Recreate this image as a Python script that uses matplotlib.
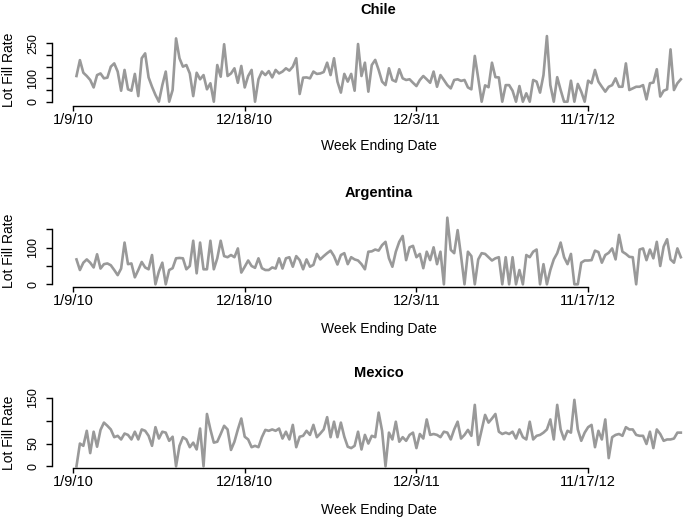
import matplotlib
matplotlib.use("Agg")
import matplotlib.pyplot as plt
import numpy as np

plt.rcParams['font.family'] = ['Liberation Sans', 'DejaVu Sans']

# ---------------- data ----------------
tick_labels = ["1/9/10", "12/18/10", "12/3/11", "11/17/12"]
tick_weeks = [0, 50, 100, 150]

chile = [110,178,124,110,93,61,114,121,100,103,
         150,164,129,47,136,53,47,119,24,186,
         207,104,64,29,0,71,129,0,50,271,
         186,150,157,121,24,124,96,114,53,79,
         0,157,107,246,110,121,143,81,153,61,
         110,136,0,96,129,114,131,104,136,121,
         129,143,133,150,186,33,103,104,100,129,
         119,121,127,167,114,186,86,39,119,86,
         119,47,247,110,167,43,157,179,136,86,
         71,143,93,86,139,100,93,96,81,67,
         93,110,96,81,129,64,114,93,71,57,
         93,96,89,93,61,53,196,100,0,70,
         62,167,105,104,0,71,71,47,0,67,
         0,36,0,93,86,39,114,281,71,0,
         105,50,0,0,90,0,76,43,0,90,
         79,136,86,64,43,64,71,100,64,64,
         164,50,57,64,64,71,10,79,82,139,
         22,47,53,224,50,79,96]

argentina = [68,39,59,68,59,46,82,43,55,57,
             52,39,25,43,114,55,57,19,39,61,
             46,41,80,0,35,59,0,39,44,71,
             72,71,41,50,119,30,114,41,41,119,
             41,71,119,77,74,80,74,98,32,48,
             65,50,45,71,44,39,39,46,43,71,
             43,71,74,48,77,66,41,68,48,53,
             83,68,77,85,92,77,54,80,85,55,
             74,68,65,55,41,89,90,
             95,92,107,116,71,48,89,116,132,66,
             101,105,74,83,44,89,66,101,55,89,
             0,182,94,85,148,77,0,89,77,0,
             68,85,83,74,65,71,74,0,74,0,
             74,0,39,0,80,74,89,95,0,55,
             0,39,68,85,114,74,55,83,0,0,
             59,65,65,66,92,88,59,80,86,98,
             68,135,89,83,75,74,0,95,98,66,
             95,71,116,50,103,123,68,59,98,74]

mexico = [0,50,45,78,29,76,43,80,96,89,
          81,64,67,59,72,69,59,76,59,81,
          78,67,45,86,61,76,74,56,65,0,
          45,64,59,42,52,37,83,0,115,81,
          52,54,71,89,81,36,54,81,105,65,
          59,42,45,42,64,80,78,81,78,83,
          61,76,59,91,42,65,67,78,69,91,
          64,72,81,108,64,98,64,96,65,43,
          40,45,76,37,69,50,67,64,118,78,
          0,74,59,98,54,64,56,69,74,40,
          71,61,103,69,71,69,64,76,74,59,
          81,98,61,69,80,67,135,47,80,113,
          96,105,115,76,71,74,71,76,61,81,
          64,59,98,59,67,69,74,81,103,59,
          135,81,59,78,74,146,81,56,74,86,
          91,42,78,59,103,18,64,69,71,67,
          86,81,81,69,67,67,49,76,40,81,
          71,56,59,59,61,74,74]

countries = ["Chile", "Argentina", "Mexico"]
series = [chile, argentina, mexico]
yticks = [[0, 50, 100, 150, 200, 250], [0, 50, 100, 150], [0, 50, 100, 150]]
ytick_labels = [["0", "", "100", "", "", "250"], ["0", "", "100", ""], ["0", "50", "", "150"]]

# ---------------- layout (pixels) ----------------
W, H = 685, 521
fig = plt.figure(figsize=(W / 100, H / 100), dpi=100)

LEFT, RIGHT = 52.3, 705.0
# (top_px, bottom_px, ylim)
panels = [
    (33.5, 106.0, (-18.4, 292.0)),
    (215.0, 287.3, (-8.2, 189.3)),
    (397.0, 468.3, (-4.4, 152.3)),
]
title_y = [10.0, 192.7, 373.3]
xlabel_y = [146.0, 329.0, 510.0]

line_color = "#999999"

for k in range(3):
    top, bottom, ylim = panels[k]
    ax = fig.add_axes([LEFT / W, 1 - bottom / H, (RIGHT - LEFT) / W, (bottom - top) / H])
    vals = series[k]
    x = np.arange(1, len(vals) + 1)
    ax.plot(x, vals, color=line_color, lw=1.9, solid_joinstyle="round", clip_on=False)
    ax.set_xlim(-6.04, 184.04)
    ax.set_ylim(*ylim)
    ax.patch.set_visible(False)
    for s in ["top", "right"]:
        ax.spines[s].set_visible(False)
    ax.spines["bottom"].set_bounds(tick_weeks[0], tick_weeks[-1])
    ax.spines["left"].set_bounds(yticks[k][0], yticks[k][-1])
    for s in ["bottom", "left"]:
        ax.spines[s].set_linewidth(1.0)
    ax.set_xticks(tick_weeks)
    ax.set_xticklabels(tick_labels, fontsize=10.5)
    ax.set_yticks(yticks[k])
    ax.set_yticklabels(ytick_labels[k], fontsize=9, rotation=90, va="center")
    ax.tick_params(axis="x", direction="out", length=3.5, width=1.0, pad=1.5)
    ax.tick_params(axis="y", direction="out", length=4.5, width=1.0, pad=5)

    cx = (LEFT + RIGHT) / 2 / W
    fig.text(cx, 1 - title_y[k] / H, countries[k], ha="center", va="center",
             fontsize=10.5, fontweight="bold")
    fig.text(cx, 1 - xlabel_y[k] / H, "Week Ending Date", ha="center", va="center",
             fontsize=10)
    fig.text(9 / W, 1 - (top + bottom) / 2 / H, "Lot Fill Rate", ha="center", va="center",
             rotation=90, fontsize=10)

fig.savefig("out.png", dpi=100)
